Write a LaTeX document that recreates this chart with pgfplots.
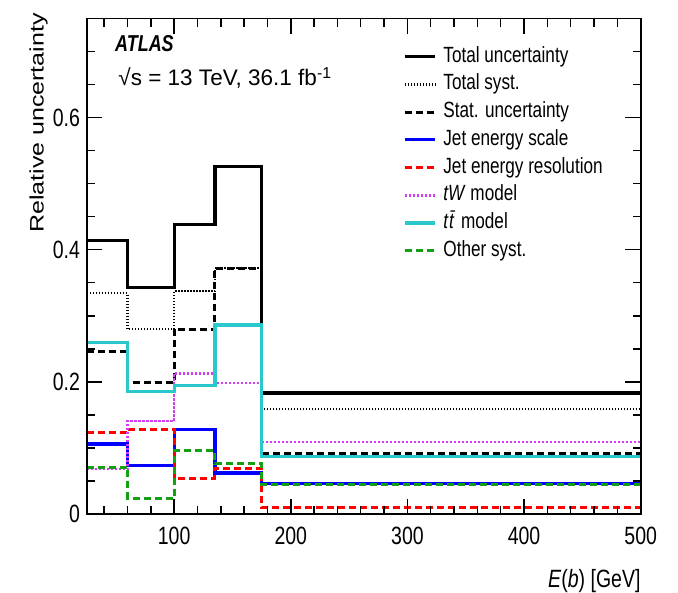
\documentclass[border=0pt]{standalone}
\usepackage{fontspec}
\setmainfont{Liberation Sans}[FakeStretch=0.78]
\newfontfamily\plainsans{Liberation Sans}
\usepackage{graphicx}
\usepackage{pgfplots}
\pgfplotsset{compat=1.18}

\definecolor{jesblue}{RGB}{0,0,255}
\definecolor{jerred}{RGB}{255,0,0}
\definecolor{twmag}{RGB}{215,60,245}
\definecolor{ttcyan}{RGB}{40,200,205}
\definecolor{othgreen}{RGB}{20,160,20}

\newcommand\tickfont{\fontsize{25bp}{28bp}\selectfont}
\newcommand\legfont{\fontsize{22bp}{26bp}\selectfont}
\newcommand\labfont{\fontsize{25bp}{29bp}\selectfont}

% relative uncertainties per E(b) bin; bin edges 25, 60, 100, 135, 175, 500 GeV
% (last row repeats the last bin so the step runs to the upper edge)
\pgfplotstableread{
x   total syst  stat  jes    jer    tw    tt    other
25  0.414 0.334 0.246 0.106  0.124  0.068 0.260 0.071
60  0.343 0.280 0.199 0.074  0.128  0.141 0.186 0.024
100 0.438 0.337 0.280 0.128  0.054  0.213 0.194 0.096
135 0.526 0.372 0.372 0.062  0.069  0.198 0.286 0.076
175 0.183 0.159 0.092 0.0465 0.0096 0.109 0.087 0.045
500 0.183 0.159 0.092 0.0465 0.0096 0.109 0.087 0.045
}\unc

\begin{document}
\begin{tikzpicture}
\useasboundingbox (-86.7bp,-79bp) rectangle (591.3bp,514bp);
\begin{axis}[
  at={(0,0)}, anchor=south west,
  scale only axis, width=554bp, height=495.5bp,
  xmin=25, xmax=500, ymin=0, ymax=0.75,
  xtick={100,200,300,400,500}, xticklabels={100,200,300,400,500},
  minor xtick={40,60,...,480},
  ytick={0,0.2,0.4,0.6}, yticklabels={0,0.2,0.4,0.6},
  minor ytick={0.05,0.1,0.15,0.25,0.3,0.35,0.45,0.5,0.55,0.65,0.7},
  major tick length=15.5bp, minor tick length=8bp,
  tick align=inside, tick pos=both,
  every tick/.style={black, line width=1.4bp},
  axis line style={line width=1.7bp},
  axis on top,
  /pgf/number format/assume math mode=true,
  tick label style={font=\tickfont, inner sep=0pt},
  xticklabel style={anchor=north, yshift=-13bp},
  yticklabel style={anchor=east, xshift=-6.5bp},
  xlabel={\textit{E}(\textit{b}) [GeV]},
  xlabel style={at={(rel axis cs:1,0)}, anchor=base east, yshift=-73bp, inner sep=0pt, font=\labfont},
  ylabel={\scalebox{1}[0.78]{\plainsans Relative uncertainty}},
  ylabel style={at={(rel axis cs:-0.0699,1.0111)}, anchor=south east, inner sep=0pt, font=\fontsize{25bp}{30bp}\selectfont},
  legend image code/.code={\draw[#1] (0bp,0bp) -- (30.6bp,0bp);},
  legend cell align=left,
  legend style={at={(rel axis cs:0.5704,0.9445)}, anchor=north west, draw=none, fill=none,
    inner sep=0pt, font=\legfont, row sep=6.7bp, column sep=6.7bp,
    nodes={inner sep=0pt, text height=16bp, text depth=5bp}},
]
\addplot[const plot, black, line width=3.2bp] table[x=x, y=total]{\unc};
\addlegendentry{Total uncertainty}
\addplot[const plot, black, line width=2.2bp, dash pattern=on 1.4bp off 1.6bp] table[x=x, y=syst]{\unc};
\addlegendentry{Total syst.}
\addplot[const plot, black, line width=3bp, dash pattern=on 7bp off 4bp] table[x=x, y=stat]{\unc};
\addlegendentry{Stat. uncertainty}
\addplot[const plot, jesblue, line width=3.2bp] table[x=x, y=jes]{\unc};
\addlegendentry{Jet energy scale}
\addplot[const plot, jerred, line width=3bp, dash pattern=on 7bp off 4bp] table[x=x, y=jer]{\unc};
\addlegendentry{Jet energy resolution}
\addplot[const plot, twmag, line width=2.6bp, dash pattern=on 2.2bp off 1.8bp] table[x=x, y=tw]{\unc};
\addlegendentry{\textit{tW} model}
\addplot[const plot, ttcyan, line width=3.2bp] table[x=x, y=tt]{\unc};
\addlegendentry{\textit{t\kern1bp\=t} model}
\addplot[const plot, othgreen, line width=3bp, dash pattern=on 7bp off 4bp] table[x=x, y=other]{\unc};
\addlegendentry{Other syst.}

\node[anchor=base west, inner sep=0pt, font=\fontsize{23bp}{27bp}\selectfont\bfseries\itshape]
  at (rel axis cs:0.0511,0.933) {ATLAS};
\node[anchor=base west, inner sep=0pt, font=\fontsize{22.5bp}{27bp}\selectfont\plainsans]
  at (rel axis cs:0.057,0.8638) {√s = 13 TeV, 36.1 fb\textsuperscript{-1}};
\end{axis}
\end{tikzpicture}
\end{document}
